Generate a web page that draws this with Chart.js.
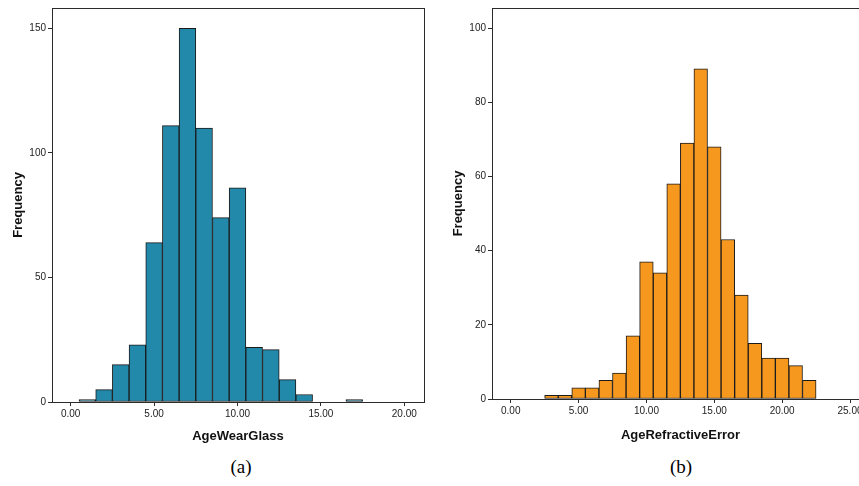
<!DOCTYPE html>
<html>
<head>
<meta charset="utf-8">
<script src="https://cdn.jsdelivr.net/npm/chart.js@4"></script>
<style>
    html, body { margin: 0; padding: 0; background: #fff; overflow: hidden; width: 859px; height: 486px; }
    #wrap { position: relative; width: 859px; height: 486px; overflow: hidden; }
    canvas { position: absolute; }
    #chartA { left: 0; top: 0; }
    #chartB { left: 440px; top: 0; }
    .cap { position: absolute; top: 456px; font-family: "Liberation Serif", "Times New Roman", serif; font-size: 19px; color: #000; width: 60px; text-align: center; }
</style>
</head>
<body>
<div id="wrap">
    <canvas id="chartA" width="430" height="445"></canvas>
    <canvas id="chartB" width="435" height="444"></canvas>
    <div class="cap" style="left: 211px;">(a)</div>
    <div class="cap" style="left: 651px;">(b)</div>
</div>
<script>
// histogram (a): age when glasses were first worn
const wearBins = [1, 2, 3, 4, 5, 6, 7, 8, 9, 10, 11, 12, 13, 14, 17];
const wearCounts = [1, 5, 15, 23, 64, 111, 150, 110, 74, 86, 22, 21, 9, 3, 1];
const wearXTicks = [0, 5, 10, 15, 20];
const wearYTicks = [0, 50, 100, 150];

// histogram (b): age of refractive error
const refrBins = [3, 4, 5, 6, 7, 8, 9, 10, 11, 12, 13, 14, 15, 16, 17, 18, 19, 20, 21, 22];
const refrCounts = [1, 1, 3, 3, 5, 7, 17, 37, 34, 58, 69, 89, 68, 43, 28, 15, 11, 11, 9, 5];
const refrXTicks = [0, 5, 10, 15, 20, 25];
const refrYTicks = [0, 20, 40, 60, 80, 100];

const AXIS_COLOR = '#2b2b2b';
const TICK_FONT = { family: 'Liberation Sans, Arial, sans-serif', size: 10 };
const TITLE_FONT = { family: 'Liberation Sans, Arial, sans-serif', size: 13, weight: 'bold' };

const framePlugin = {
    id: 'frame',
    afterDraw(chart) {
        const a = chart.chartArea;
        const ctx = chart.ctx;
        ctx.save();
        ctx.strokeStyle = AXIS_COLOR;
        ctx.lineWidth = 1;
        ctx.strokeRect(Math.round(a.left) + 0.5, Math.round(a.top) + 0.5,
            Math.round(a.right - a.left), Math.round(a.bottom - a.top));
        ctx.restore();
    }
};


function fixedTicks(list) {
    return function (scale) {
        scale.ticks = list.map(v => ({ value: v }));
    };
}


function drawHistogram(id, bins, counts, opts) {
    const ctx = document.getElementById(id).getContext('2d');
    return new Chart(ctx, {
        type: 'bar',
        data: {
            datasets: [{
                data: bins.map((b, i) => ({ x: b, y: counts[i] })),
                backgroundColor: opts.fill,
                borderColor: '#1a1a1a',
                borderWidth: 1,
                borderSkipped: false,
                barPercentage: 1,
                categoryPercentage: 1
            }]
        },
        plugins: [framePlugin],
        options: {
            responsive: false,
            animation: false,
            layout: { padding: { left: 0, right: 6, top: opts.top, bottom: 0 } },
            plugins: { legend: { display: false }, tooltip: { enabled: false } },
            scales: {
                x: {
                    type: 'linear',
                    offset: false,
                    min: opts.xMin,
                    max: opts.xMax,
                    afterBuildTicks: fixedTicks(opts.xTicks),
                    afterFit: s => { s.height = opts.xHeight; },
                    grid: { display: true, offset: false, drawOnChartArea: false, drawTicks: true, tickLength: 4, color: AXIS_COLOR },
                    border: { display: true, color: AXIS_COLOR },
                    ticks: { font: TICK_FONT, color: '#222', padding: 2, maxRotation: 0, autoSkip: false,
                        callback: v => Number(v).toFixed(2) },
                    title: { display: true, text: opts.xTitle, font: TITLE_FONT, color: '#111',
                        padding: { top: 0, bottom: opts.xTitlePad } }
                },
                y: {
                    min: 0,
                    max: opts.yMax,
                    afterBuildTicks: fixedTicks(opts.yTicks),
                    afterFit: s => { s.width = 52; },
                    grid: { display: true, offset: false, drawOnChartArea: false, drawTicks: true, tickLength: 4, color: AXIS_COLOR },
                    border: { display: true, color: AXIS_COLOR },
                    ticks: { font: TICK_FONT, color: '#222', padding: 2 },
                    title: { display: true, text: 'Frequency', font: TITLE_FONT, color: '#111',
                        padding: { top: 10.2, bottom: 0 } }
                }
            }
        }
    });
}


drawHistogram('chartA', wearBins, wearCounts, {
    fill: '#2389ab',
    top: 8,
    xMin: -1.12, xMax: 21.18, xTicks: wearXTicks,
    yMax: 158.2, yTicks: wearYTicks,
    xHeight: 43, xTitlePad: 0.5,
    xTitle: 'AgeWearGlass'
});

drawHistogram('chartB', refrBins, refrCounts, {
    fill: '#f7981e',
    top: 1,
    xMin: -1.38, xMax: 26.4, xTicks: refrXTicks,
    yMax: 105.4, yTicks: refrYTicks,
    xHeight: 45, xTitlePad: 1.2,
    xTitle: 'AgeRefractiveError'
});
</script>
</body>
</html>
